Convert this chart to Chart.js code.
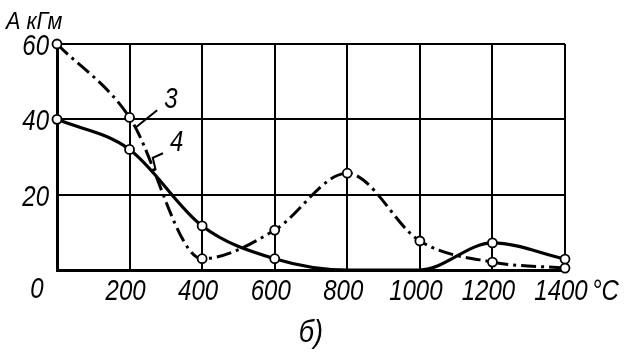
<!DOCTYPE html>
<html>
<head>
<meta charset="utf-8">
<script src="https://cdn.jsdelivr.net/npm/chart.js@4.4.1/dist/chart.umd.min.js"></script>
<style>
  html, body { margin: 0; padding: 0; background: #fff; }
  #wrap { width: 629px; height: 360px; position: relative; }
</style>
</head>
<body>
<div id="wrap"><canvas id="chart"></canvas></div>
<script>
// temperatures, °C
const temps = [0, 200, 400, 600, 800, 1000, 1200, 1400];
// curve 3 (dash-dot) and curve 4 (solid), A in кГм
const curve3 = [60, 40.5, 3, 10.6, 25.7, 7.7, 2.1, 0.5];
const curve4 = [40, 32, 11.7, 3, 0, 0, 7.2, 2.9];
// which points of curve 4 carry a circle
const curve4Marks = [1, 1, 1, 1, 0, 0, 1, 1];
const yTicks = [0, 20, 40, 60];

const FONT = "'Liberation Sans', Arial, sans-serif";

function toPoints(vals) {
  return temps.map((t, i) => ({ x: t, y: vals[i] }));
}

// narrow italic text, like the hand lettering of the original
function narrowText(ctx, txt, x, y, size, align, squeeze) {
  ctx.save();
  ctx.font = "italic " + size + "px " + FONT;
  ctx.translate(x, y);
  ctx.scale(squeeze, 1);
  ctx.textAlign = align;
  ctx.textBaseline = "alphabetic";
  ctx.fillText(txt, 0, 0);
  ctx.restore();
}

// tick labels, axis title, unit, curve labels, sub caption
const extras = {
  id: "extras",
  afterDraw(chart) {
    const ctx = chart.ctx;
    const xs = chart.scales.x;
    const ys = chart.scales.y;
    const px = (v) => xs.getPixelForValue(v);
    const py = (v) => ys.getPixelForValue(v);
    ctx.save();
    ctx.fillStyle = "#000";
    ctx.strokeStyle = "#000";

    xs.ticks.forEach((t) => {
      if (t.value === 0) return;
      narrowText(ctx, String(t.value), px(t.value) - 4, py(0) + 30, 30, "center", 0.8);
    });
    ys.ticks.forEach((t) => {
      if (t.value === 0) return;
      narrowText(ctx, String(t.value), px(0) - 8, py(t.value) + 11, 30, "right", 0.8);
    });
    narrowText(ctx, "0", px(0) - 20, py(0) + 28, 30, "center", 0.8);
    narrowText(ctx, "°C", px(1400) + 27, py(0) + 30, 30, "left", 0.8);
    narrowText(ctx, "б)", px(700), py(0) + 72, 32, "center", 0.85);
    narrowText(ctx, "А кГм", 6, 29, 24, "left", 0.9);

    // curve numbers and leaders
    narrowText(ctx, "3", px(314), py(46) + 11, 30, "center", 0.8);
    narrowText(ctx, "4", px(330), py(34.2) + 10, 30, "center", 0.8);
    ctx.lineWidth = 2;
    ctx.beginPath();
    ctx.moveTo(px(276), py(42.4));
    ctx.lineTo(px(215), py(37.7));
    ctx.moveTo(px(292), py(31));
    ctx.lineTo(px(264), py(29.8));
    ctx.lineTo(px(272), py(26.5));
    ctx.stroke();
    ctx.restore();
  }
};

new Chart(document.getElementById("chart"), {
  type: "line",
  data: {
    datasets: [
      {
        label: "3",
        data: toPoints(curve3),
        borderColor: "#000",
        borderWidth: 3,
        borderDash: [15, 5, 3, 5],
        cubicInterpolationMode: "monotone",
        pointRadius: 4.5,
        pointBackgroundColor: "#fff",
        pointBorderColor: "#000",
        pointBorderWidth: 1.8,
        clip: false
      },
      {
        label: "4",
        data: toPoints(curve4),
        borderColor: "#000",
        borderWidth: 3.2,
        cubicInterpolationMode: "monotone",
        pointRadius: curve4Marks.map((m) => (m ? 4.5 : 0)),
        pointBackgroundColor: "#fff",
        pointBorderColor: "#000",
        pointBorderWidth: 1.8,
        clip: false
      }
    ]
  },
  options: {
    responsive: true,
    maintainAspectRatio: false,
    animation: false,
    layout: { padding: { top: 44, right: 64, left: 0, bottom: 0 } },
    plugins: { legend: { display: false }, tooltip: { enabled: false } },
    scales: {
      x: {
        type: "linear",
        min: 0,
        max: 1400,
        afterFit: (s) => { s.height = 90; },
        afterBuildTicks: (s) => { s.ticks = temps.map((v) => ({ value: v })); },
        ticks: { display: false },
        grid: { color: "#000", lineWidth: 2, drawTicks: false },
        border: { color: "#000", width: 3 }
      },
      y: {
        min: 0,
        max: 60,
        afterFit: (s) => { s.width = 57; },
        afterBuildTicks: (s) => { s.ticks = yTicks.map((v) => ({ value: v })); },
        ticks: { display: false },
        grid: { color: "#000", lineWidth: 2, drawTicks: false },
        border: { color: "#000", width: 3 }
      }
    }
  },
  plugins: [extras]
});
</script>
</body>
</html>
